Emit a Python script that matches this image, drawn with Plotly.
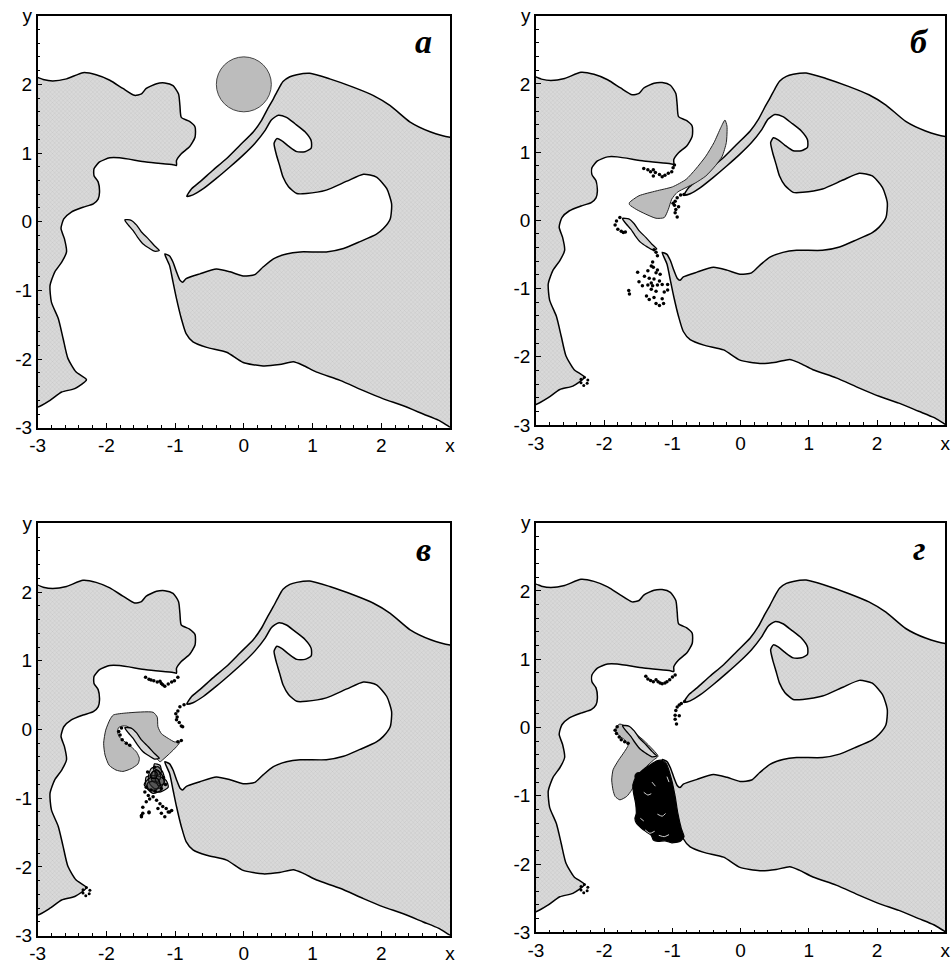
import plotly.graph_objects as go

# ---------------- data ----------------
LEFT_COAST = [(-3.30, 2.10), (-3.00, 2.10), (-2.92, 2.07), (-2.78, 2.05), (-2.58, 2.08), (-2.34, 2.17),
              (-2.15, 2.14), (-1.95, 2.06), (-1.76, 1.94), (-1.59, 1.84), (-1.49, 1.86), (-1.42, 1.94),
              (-1.27, 2.01), (-1.15, 2.02), (-1.03, 1.98), (-0.95, 1.86), (-0.93, 1.69), (-0.91, 1.52),
              (-0.79, 1.46), (-0.71, 1.38), (-0.71, 1.23), (-0.79, 1.09), (-0.91, 0.99), (-0.98, 0.89),
              (-0.98, 0.82), (-1.03, 0.83), (-1.42, 0.87), (-1.81, 0.93), (-1.95, 0.93), (-2.10, 0.87),
              (-2.18, 0.77), (-2.18, 0.67), (-2.12, 0.58), (-2.10, 0.43), (-2.12, 0.33), (-2.19, 0.26),
              (-2.34, 0.21), (-2.51, 0.14), (-2.62, 0.04), (-2.66, -0.10), (-2.61, -0.25), (-2.58, -0.44),
              (-2.65, -0.59), (-2.75, -0.73), (-2.82, -0.93), (-2.80, -1.17), (-2.70, -1.41), (-2.63, -1.70),
              (-2.56, -1.99), (-2.44, -2.19), (-2.29, -2.30), (-2.46, -2.43), (-2.65, -2.48), (-2.82, -2.60),
              (-3.00, -2.70), (-3.30, -2.70)]

RIGHT_COAST = [(3.30, 1.23), (3.00, 1.23), (2.71, 1.31), (2.42, 1.45), (2.13, 1.69), (1.88, 1.84),
               (1.59, 1.96), (1.25, 2.08), (0.96, 2.16), (0.77, 2.14), (0.67, 2.11), (0.57, 2.04),
               (0.52, 1.96), (0.43, 1.79), (0.35, 1.65), (0.26, 1.48), (0.14, 1.31), (-0.06, 1.11),
               (-0.25, 0.92), (-0.45, 0.75), (-0.64, 0.58), (-0.76, 0.48), (-0.83, 0.37),
               (-0.74, 0.39), (-0.59, 0.48), (-0.40, 0.63), (-0.20, 0.80), (-0.01, 0.97), (0.16, 1.14),
               (0.31, 1.33), (0.40, 1.48), (0.50, 1.55), (0.62, 1.52), (0.74, 1.43), (0.89, 1.31),
               (0.98, 1.18), (0.98, 1.07), (0.89, 1.02), (0.77, 1.02), (0.65, 1.10), (0.55, 1.18),
               (0.48, 1.21), (0.44, 1.14), (0.47, 0.99), (0.52, 0.82), (0.57, 0.65), (0.65, 0.51),
               (0.77, 0.41), (0.91, 0.41), (1.20, 0.46), (1.50, 0.59), (1.74, 0.69), (1.93, 0.65),
               (2.08, 0.48), (2.15, 0.26), (2.13, 0.04), (2.03, -0.10), (1.93, -0.18), (1.69, -0.29),
               (1.45, -0.39), (1.20, -0.44), (0.82, -0.44), (0.62, -0.47), (0.43, -0.54), (0.28, -0.66),
               (0.16, -0.77), (-0.01, -0.79), (-0.20, -0.73), (-0.40, -0.69), (-0.64, -0.76), (-0.84, -0.83),
               (-0.89, -0.88), (-0.93, -0.85), (-0.98, -0.73), (-1.03, -0.59), (-1.08, -0.50), (-1.15, -0.47),
               (-1.08, -0.64), (-1.03, -0.88), (-0.98, -1.12), (-0.91, -1.41), (-0.84, -1.63), (-0.74, -1.75),
               (-0.54, -1.83), (-0.25, -1.90), (-0.01, -2.05), (0.28, -2.10), (0.52, -2.08), (0.72, -2.04),
               (0.86, -2.09), (1.06, -2.19), (1.40, -2.31), (1.74, -2.46), (2.03, -2.58), (2.32, -2.68),
               (2.61, -2.80), (2.83, -2.89), (2.98, -2.98), (3.10, -3.05), (3.30, -3.30)]

ISLAND = [(-1.73, 0.03), (-1.64, 0.02), (-1.56, -0.05), (-1.49, -0.15), (-1.39, -0.25), (-1.30, -0.35),
          (-1.23, -0.42), (-1.30, -0.43), (-1.37, -0.39), (-1.47, -0.32), (-1.55, -0.22), (-1.61, -0.13),
          (-1.68, -0.05), (-1.73, 0.02)]

# panel a: spill as a circle (centre x, centre y, radius)
SPILL_A = (0.0, 2.0, 0.40)

# panel b
SPILL_B = [(-1.63, 0.26), (-1.49, 0.36), (-1.24, 0.43), (-1.00, 0.49), (-0.80, 0.60), (-0.66, 0.75),
           (-0.51, 0.94), (-0.39, 1.14), (-0.29, 1.36), (-0.23, 1.47), (-0.20, 1.38), (-0.21, 1.14),
           (-0.27, 0.94), (-0.37, 0.80), (-0.51, 0.65), (-0.66, 0.55), (-0.80, 0.48), (-0.93, 0.41),
           (-1.01, 0.31), (-1.06, 0.16), (-1.12, 0.04), (-1.24, 0.03), (-1.39, 0.09), (-1.53, 0.16),
           (-1.63, 0.23)]
DOTS_B = [(-1.42, 0.76), (-1.36, 0.74), (-1.32, 0.71), (-1.28, 0.74), (-1.25, 0.70), (-1.28, 0.65),
          (-1.19, 0.67), (-1.15, 0.64), (-1.11, 0.66), (-1.06, 0.69), (-1.01, 0.71), (-0.99, 0.77),
          (-0.97, 0.81),
          (-0.83, 0.38), (-0.88, 0.37), (-0.93, 0.33), (-0.96, 0.28), (-0.97, 0.22), (-0.95, 0.16),
          (-0.91, 0.20), (-0.96, 0.11), (-0.93, 0.05), (-0.99, 0.25),
          (-1.77, 0.04), (-1.82, -0.01), (-1.84, -0.07), (-1.80, -0.13), (-1.75, -0.16), (-1.72, -0.18),
          (-1.69, -0.17),
          (-1.27, -0.43), (-1.24, -0.47), (-1.22, -0.52), (-1.29, -0.61), (-1.31, -0.67), (-1.28, -0.69),
          (-1.22, -0.73), (-1.51, -0.76), (-1.36, -0.74), (-1.24, -0.77), (-1.18, -0.79), (-1.41, -0.82),
          (-1.34, -0.85), (-1.27, -0.86), (-1.19, -0.89), (-1.49, -0.90), (-1.31, -0.92), (-1.36, -0.95),
          (-1.29, -0.96), (-1.22, -0.95), (-1.15, -0.94), (-1.07, -0.94), (-1.44, -0.96), (-1.31, -1.01),
          (-1.24, -1.04), (-1.12, -1.05), (-1.38, -1.11), (-1.34, -1.16), (-1.27, -1.13), (-1.15, -1.15),
          (-1.07, -1.02), (-1.24, -1.22), (-1.19, -1.25), (-1.13, -1.22), (-1.64, -1.03), (-1.63, -1.08)]
TIP_DOTS = [(-2.34, -2.33), (-2.29, -2.30), (-2.24, -2.34), (-2.25, -2.39), (-2.30, -2.42), (-2.34, -2.38)]

# panel c
SPILL_C = [(-1.90, 0.21), (-1.71, 0.24), (-1.32, 0.25), (-1.26, 0.18), (-1.25, 0.04), (-1.20, -0.06),
           (-1.10, -0.13), (-1.01, -0.18), (-0.93, -0.18), (-0.98, -0.25), (-1.08, -0.35), (-1.18, -0.44),
           (-1.22, -0.47), (-1.27, -0.42), (-1.35, -0.36), (-1.44, -0.25), (-1.54, -0.15), (-1.61, -0.06),
           (-1.66, 0.02), (-1.71, 0.05), (-1.77, 0.05), (-1.82, 0.03), (-1.84, -0.03), (-1.81, -0.11),
           (-1.73, -0.18), (-1.64, -0.25), (-1.56, -0.33), (-1.52, -0.42), (-1.54, -0.50), (-1.64, -0.57),
           (-1.76, -0.61), (-1.86, -0.59), (-1.96, -0.52), (-2.02, -0.37), (-2.04, -0.20), (-2.01, -0.01),
           (-1.95, 0.14)]
DOTS_C = [(-1.43, 0.76), (-1.38, 0.73), (-1.35, 0.72), (-1.31, 0.71), (-1.26, 0.69), (-1.22, 0.70),
          (-1.20, 0.67), (-1.18, 0.65), (-1.15, 0.63), (-1.10, 0.66), (-1.05, 0.69), (-1.01, 0.71),
          (-0.96, 0.76),
          (-0.93, 0.33), (-0.87, 0.36), (-0.96, 0.27), (-0.99, 0.23), (-0.97, 0.18), (-0.98, 0.14),
          (-0.94, 0.10), (-0.91, 0.05), (-0.89, 0.04), (-0.96, -0.18), (-0.91, -0.16),
          (-1.78, 0.02), (-1.82, -0.03), (-1.80, -0.08), (-1.77, -0.15), (-1.71, -0.20), (-1.66, -0.23),
          (-1.44, -0.91), (-1.39, -0.96), (-1.37, -1.01), (-1.32, -0.98), (-1.27, -1.03), (-1.22, -1.08),
          (-1.18, -1.12), (-1.13, -1.15), (-1.08, -1.20), (-1.20, -1.22), (-1.25, -1.15), (-1.42, -1.05),
          (-1.47, -1.13), (-1.49, -1.25), (-1.38, -1.21), (-1.15, -1.27), (-1.10, -1.20), (-1.05, -1.18),
          (-1.49, -1.27), (-1.47, -1.22), (-1.38, -1.20),
          (-1.42, -0.84), (-1.35, -0.88), (-1.29, -0.90), (-1.20, -0.86), (-1.14, -0.80), (-1.40, -0.62),
          (-1.30, -0.55), (-1.17, -0.70)]
TANGLE_C = [
    [(-1.35, -0.57), (-1.25, -0.54), (-1.18, -0.62), (-1.15, -0.74), (-1.20, -0.84), (-1.30, -0.86),
     (-1.37, -0.79), (-1.39, -0.69), (-1.35, -0.57)],
    [(-1.42, -0.69), (-1.27, -0.67), (-1.13, -0.74), (-1.10, -0.84), (-1.22, -0.91), (-1.37, -0.88),
     (-1.43, -0.79), (-1.42, -0.69)],
    [(-1.30, -0.50), (-1.22, -0.52), (-1.20, -0.62), (-1.26, -0.67), (-1.31, -0.59), (-1.30, -0.50)],
    [(-1.33, -0.62), (-1.24, -0.60), (-1.21, -0.70), (-1.27, -0.78), (-1.34, -0.74), (-1.33, -0.62)],
    [(-1.40, -0.78), (-1.30, -0.75), (-1.22, -0.80), (-1.28, -0.88), (-1.40, -0.86), (-1.40, -0.78)],
    [(-1.28, -0.58), (-1.19, -0.66), (-1.16, -0.78), (-1.24, -0.82), (-1.29, -0.72), (-1.28, -0.58)],
    [(-1.45, -0.80), (-1.36, -0.70), (-1.25, -0.72), (-1.20, -0.88), (-1.32, -0.93), (-1.45, -0.80)],
    [(-1.36, -0.66), (-1.31, -0.60), (-1.26, -0.64), (-1.28, -0.71), (-1.34, -0.71), (-1.36, -0.66)],
]

# panel d
SPILL_D = [(-1.82, 0.01), (-1.83, -0.06), (-1.77, -0.13), (-1.70, -0.18), (-1.65, -0.26), (-1.70, -0.35),
           (-1.79, -0.48), (-1.87, -0.62), (-1.89, -0.77), (-1.87, -0.92), (-1.84, -1.01), (-1.77, -1.06),
           (-1.67, -1.01), (-1.60, -0.92), (-1.55, -0.82), (-1.50, -0.70), (-1.38, -0.57), (-1.28, -0.48),
           (-1.21, -0.42), (-1.28, -0.33), (-1.43, -0.18), (-1.58, -0.06), (-1.67, 0.01), (-1.77, 0.05)]
CLUSTER_D = [(-1.16, -0.48), (-1.09, -0.53), (-1.01, -0.77), (-0.96, -1.01), (-0.92, -1.26), (-0.87, -1.48),
             (-0.83, -1.60), (-0.89, -1.67), (-1.01, -1.69), (-1.11, -1.66), (-1.21, -1.67), (-1.28, -1.65),
             (-1.31, -1.58), (-1.38, -1.53), (-1.45, -1.48), (-1.53, -1.40), (-1.55, -1.33), (-1.53, -1.26),
             (-1.54, -1.11), (-1.57, -0.96), (-1.58, -0.84), (-1.53, -0.72), (-1.43, -0.62), (-1.33, -0.55),
             (-1.23, -0.49)]
CLUSTER_D_STREAKS = [[(-1.42, -0.95), (-1.36, -0.99), (-1.31, -0.97)],
                     [(-1.22, -1.27), (-1.15, -1.30), (-1.10, -1.26)],
                     [(-1.40, -1.50), (-1.33, -1.55), (-1.26, -1.52)],
                     [(-1.08, -0.72), (-1.05, -0.80)],
                     [(-1.47, -1.33), (-1.42, -1.37)],
                     [(-1.20, -1.58), (-1.12, -1.60), (-1.05, -1.57)],
                     [(-1.30, -0.80), (-1.25, -0.86)]]
BLOB_D = (-1.49, -0.72, 0.06)
DOTS_D = [(-1.39, 0.75), (-1.36, 0.71), (-1.32, 0.69), (-1.28, 0.67), (-1.24, 0.70), (-1.21, 0.67),
          (-1.18, 0.65), (-1.15, 0.64), (-1.11, 0.65), (-1.08, 0.67), (-1.04, 0.70), (-1.00, 0.74),
          (-0.96, 0.77),
          (-0.82, 0.38), (-0.87, 0.35), (-0.90, 0.33), (-0.93, 0.30), (-0.95, 0.25), (-0.96, 0.18),
          (-0.90, 0.17), (-0.96, 0.12), (-0.94, 0.05),
          (-1.81, 0.01), (-1.84, -0.04), (-1.82, -0.09), (-1.78, -0.14), (-1.75, -0.18), (-1.70, -0.21),
          (-1.65, -0.23)]

LETTERS = ["а", "б", "в", "г"]
X_TICKS = [-3, -2, -1, 0, 1, 2, 3]
X_TICKTEXT = ["-3", "-2", "-1", "0", "1", "2", "x"]
Y_TICKS = [-3, -2, -1, 0, 1, 2, 3]
Y_TICKTEXT = ["-3", "-2", "-1", "0", "1", "2", "y"]

# ---------------- styling ----------------
LAND_BG = "#d9d9d9"
LAND_PATTERN = dict(shape="x", size=3, solidity=0.2, fgcolor="#a0a0a0", bgcolor=LAND_BG)
SPILL_COLOR = "#bcbcbc"
DOMAINS = [
    ([0.0396, 0.4732], [0.5549, 0.9837]),
    ([0.5636, 0.9940], [0.5578, 0.9837]),
    ([0.0396, 0.4732], [0.0263, 0.4555]),
    ([0.5636, 0.9940], [0.0299, 0.4561]),
]

fig = go.Figure()


def add_poly(pts, xa, ya, fillcolor=None, pattern=None, lw=1.5, lc="black", close=True, fill=True):
    xs = [p[0] for p in pts]
    ys = [p[1] for p in pts]
    if close:
        xs.append(xs[0])
        ys.append(ys[0])
    kw = {}
    if fill:
        kw["fill"] = "toself"
        kw["fillcolor"] = fillcolor if fillcolor else "rgba(0,0,0,0)"
        if pattern:
            kw["fillpattern"] = pattern
    fig.add_trace(go.Scatter(x=xs, y=ys, mode="lines",
                             line=dict(color=lc, width=lw, shape="spline", smoothing=0.6),
                             xaxis=xa, yaxis=ya, hoverinfo="skip", showlegend=False, **kw))


def add_dots(pts, xa, ya, size=3.5):
    fig.add_trace(go.Scatter(x=[p[0] for p in pts], y=[p[1] for p in pts], mode="markers",
                             marker=dict(color="black", size=size),
                             xaxis=xa, yaxis=ya, hoverinfo="skip", showlegend=False))


axes = [("x", "y"), ("x2", "y2"), ("x3", "y3"), ("x4", "y4")]
for i, (xa, ya) in enumerate(axes):
    add_poly(LEFT_COAST, xa, ya, fillcolor=LAND_BG, pattern=LAND_PATTERN)
    add_poly(RIGHT_COAST, xa, ya, fillcolor=LAND_BG, pattern=LAND_PATTERN)

    if i == 1:
        add_poly(SPILL_B, xa, ya, fillcolor=SPILL_COLOR, lw=1.0, lc="#222")
    if i == 2:
        add_poly(SPILL_C, xa, ya, fillcolor=SPILL_COLOR, lw=1.0, lc="#222")
    if i == 3:
        add_poly(SPILL_D, xa, ya, fillcolor=SPILL_COLOR, lw=1.0, lc="#222")

    add_poly(ISLAND, xa, ya, fillcolor=LAND_BG, pattern=LAND_PATTERN, lw=1.3)

    if i == 1:
        add_dots(DOTS_B, xa, ya)
        add_dots(TIP_DOTS, xa, ya, size=3)
    if i == 2:
        for loop in TANGLE_C:
            add_poly(loop, xa, ya, fillcolor="rgba(50,50,50,0.35)", lw=1.2, close=False)
        add_dots(DOTS_C, xa, ya)
        add_dots(TIP_DOTS, xa, ya, size=3)
    if i == 3:
        add_poly(CLUSTER_D, xa, ya, fillcolor="black", lw=1.2)
        for st in CLUSTER_D_STREAKS:
            add_poly(st, xa, ya, lw=1.0, lc="#d0d0d0", close=False, fill=False)
        add_dots(DOTS_D, xa, ya)
        add_dots(TIP_DOTS, xa, ya, size=3)

shapes = []
cx, cy, r = SPILL_A
shapes.append(dict(type="circle", xref="x", yref="y", x0=cx - r, x1=cx + r, y0=cy - r, y1=cy + r,
                   fillcolor=SPILL_COLOR, line=dict(color="#444", width=1), layer="above"))
bx, by, br = BLOB_D
shapes.append(dict(type="circle", xref="x4", yref="y4", x0=bx - br, x1=bx + br, y0=by - br, y1=by + br,
                   fillcolor="black", line=dict(color="black", width=1), layer="above"))

annotations = []
for i, (xa, ya) in enumerate(axes):
    annotations.append(dict(x=2.62, y=2.62, xref=xa, yref=ya, text=f"<b><i>{LETTERS[i]}</i></b>",
                            showarrow=False, font=dict(family="Liberation Serif, Times New Roman, serif",
                                                       size=34, color="black")))

layout = dict(width=951, height=961, margin=dict(l=0, r=0, t=0, b=0, autoexpand=False),
              paper_bgcolor="white", plot_bgcolor="white", showlegend=False,
              shapes=shapes, annotations=annotations)

tickfont = dict(family="Liberation Sans, Arial, sans-serif", size=19, color="black")
for i, (xa, ya) in enumerate(axes):
    xd, yd = DOMAINS[i]
    xkey = "xaxis" if i == 0 else f"xaxis{i + 1}"
    ykey = "yaxis" if i == 0 else f"yaxis{i + 1}"
    common = dict(range=[-3, 3], showgrid=False, zeroline=False, showline=True, linecolor="black",
                  linewidth=1.5, mirror=True, ticks="inside", ticklen=5, tickwidth=1, tickcolor="black",
                  minor=dict(ticks="inside", ticklen=3, dtick=0.2, tick0=0, tickcolor="black", tickwidth=1),
                  tickfont=tickfont, fixedrange=True, automargin=False)
    layout[xkey] = dict(domain=xd, anchor=ya, tickvals=X_TICKS, ticktext=X_TICKTEXT, **common)
    layout[ykey] = dict(domain=yd, anchor=xa, tickvals=Y_TICKS, ticktext=Y_TICKTEXT, **common)

fig.update_layout(**layout)
fig.write_html("out.html", config={"displayModeBar": False},
               post_script="document.body.style.margin='0';document.body.style.padding='0';")
